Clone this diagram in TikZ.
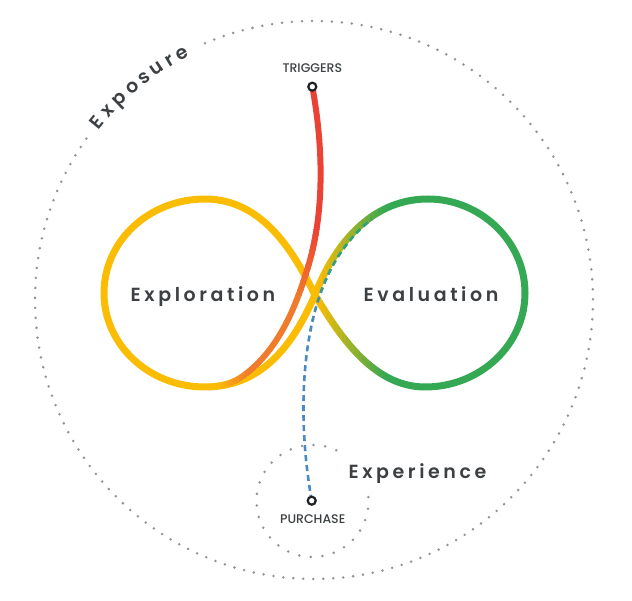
\documentclass[tikz,border=0pt]{standalone}
\usepackage{fontspec}
\setmainfont{Poppins Medium}
\newfontfamily\medfont{Poppins SemiBold}
\definecolor{gyellow}{HTML}{FBBC04}
\definecolor{ggreen}{HTML}{34A853}
\definecolor{gred}{HTML}{EA4335}
\definecolor{gorange}{HTML}{F07B2C}
\definecolor{gblue}{HTML}{4A89C4}
\definecolor{gteal}{HTML}{2FA07C}
\definecolor{textc}{HTML}{3C4043}
\definecolor{dotgray}{HTML}{939393}
\definecolor{markc}{HTML}{202124}
\newdimen\spreadamt
\def\spreadloop#1#2\endspread{#1\if\relax\detokenize{#2}\relax\else\kern\spreadamt\spreadloop#2\endspread\fi}
\newcommand\spread[2]{\spreadamt=#1\relax\spreadloop#2\endspread}
\tikzset{
  lobe/.style={line width=7pt, line cap=round, line join=round},
  trigline/.style={line width=6pt, line cap=round},
  purline/.style={line width=2.6pt, dash pattern=on 6pt off 4pt},
  marker/.style={circle, draw=markc, fill=white, line width=2.2pt, inner sep=0pt, minimum size=8pt},
  biglabel/.style={font=\medfont\fontsize{19}{19}\selectfont, text=textc, inner sep=0pt},
  smalllabel/.style={font=\fontsize{12.5}{12.5}\selectfont, text=textc, inner sep=0pt},
}
\def\rightlobe{(315,305) .. controls (338,267) and (372,213) .. (425,213) .. controls (480,213) and (525,255) .. (525,307) .. controls (525,359) and (480,401) .. (428,401) .. controls (365,401) and (330,345) .. (315,305)}
\def\leftlobe{(315,305) .. controls (297,265) and (268,213) .. (205,213) .. controls (149,213) and (104,255) .. (104,307) .. controls (104,359) and (149,401) .. (205,401) .. controls (265,401) and (296,343) .. (315,305)}
\def\trigpath{(trigpt) .. controls (324,450) and (324,385) .. (308,333) .. controls (299,304) and (282,250) .. (240,222) .. controls (229,215) and (215,213) .. (202,213)}
\def\purpath{(purpt) .. controls (301,160) and (301,220) .. (310,267) .. controls (318,310) and (335,352) .. (372,381)}
\begin{document}
\begin{tikzpicture}[x=1pt,y=1pt]
\useasboundingbox (0,0) rectangle (632,600);
% big dotted circle (Exposure)
\foreach \k in {0,...,160}{
  \pgfmathsetmacro\a{113-\k*2.052}
  \fill[dotgray] ([shift={(314,300)}]\a:279) circle[radius=1.4];
}
% small dotted circle (Experience)
\foreach \k in {0,...,25}{
  \pgfmathsetmacro\a{65+\k*11.96}
  \fill[dotgray] ([shift={(312.5,99)}]\a:56) circle[radius=1.4];
}
% Exposure text along the arc
\foreach \ch/\a [count=\n] in {E/140.7, x/137.45, p/134.08, o/130.58, s/127.37, u/124.15, r/121.13, e/118.19}{
  \node[biglabel, anchor=base, rotate=\a-90] (exposure\n) at ([shift={(314,300)}]\a:274) {\ch};
}
% right lobe with yellow to green gradient
\begin{scope}
  \clip (386,150) rectangle (540,420);
  \draw[lobe, ggreen] \rightlobe;
\end{scope}
\begin{scope}
  \clip (300,150) rectangle (318.4,420);
  \draw[lobe, gyellow] \rightlobe;
\end{scope}
\foreach \i in {0,...,16}{
  \pgfmathsetmacro\p{(\i+0.5)*100/17}
  \begin{scope}
    \clip (318+\i*4,150) rectangle (322.4+\i*4,420);
    \draw[lobe, draw=ggreen!\p!gyellow] \rightlobe;
  \end{scope}
}
% left lobe
\draw[lobe, gyellow] \leftlobe;
% coordinates of markers
\coordinate (trigpt) at (312.3,513.3);
\coordinate (purpt) at (311.7,99.3);
% trigger line red -> orange -> yellow
\begin{scope}
  \clip (0,370) rectangle (632,600);
  \draw[trigline, gred] \trigpath;
\end{scope}
\foreach \i in {0,...,13}{
  \pgfmathsetmacro\p{(\i+0.5)*100/14}
  \begin{scope}
    \clip (0,364.6-\i*5) rectangle (632,370-\i*5);
    \draw[trigline, draw=gorange!\p!gred] \trigpath;
  \end{scope}
}
\begin{scope}
  \clip (248,0) rectangle (632,300.4);
  \draw[trigline, gorange] \trigpath;
\end{scope}
\foreach \i in {0,...,9}{
  \pgfmathsetmacro\p{(\i+0.5)*10}
  \begin{scope}
    \clip (244.6-\i*3,0) rectangle (248-\i*3,300.4);
    \draw[trigline, draw=gyellow!\p!gorange] \trigpath;
  \end{scope}
}
\begin{scope}
  \clip (0,0) rectangle (218.4,300.4);
  \draw[trigline, gyellow] \trigpath;
\end{scope}
% purchase dashed line blue -> teal
\begin{scope}
  \clip (0,0) rectangle (632,270);
  \draw[purline, gblue] \purpath;
\end{scope}
\foreach \i in {0,...,7}{
  \pgfmathsetmacro\p{(\i+0.5)*100/8}
  \begin{scope}
    \clip (0,270+\i*10) rectangle (632,280.4+\i*10);
    \draw[purline, draw=gteal!\p!gblue] \purpath;
  \end{scope}
}
\begin{scope}
  \clip (0,350) rectangle (632,600);
  \draw[purline, gteal] \purpath;
\end{scope}
% markers
\node[marker] (trigdot) at (trigpt) {};
\node[marker] (purdot) at (purpt) {};
% labels
\node[smalllabel, anchor=base] (triggers) at (312.3,527.8) {TRIGGERS};
\node[smalllabel, anchor=base] (purchase) at (312.7,76.1) {PURCHASE};
\node[biglabel, anchor=base] (exploration) at (203,298.3) {\spread{3.6pt}{Exploration}};
\node[biglabel, anchor=base] (evaluation) at (431,298.3) {\spread{3.6pt}{Evaluation}};
\node[biglabel, anchor=base] (experience) at (417.5,121.7) {\spread{3.6pt}{Experience}};
\end{tikzpicture}
\end{document}
